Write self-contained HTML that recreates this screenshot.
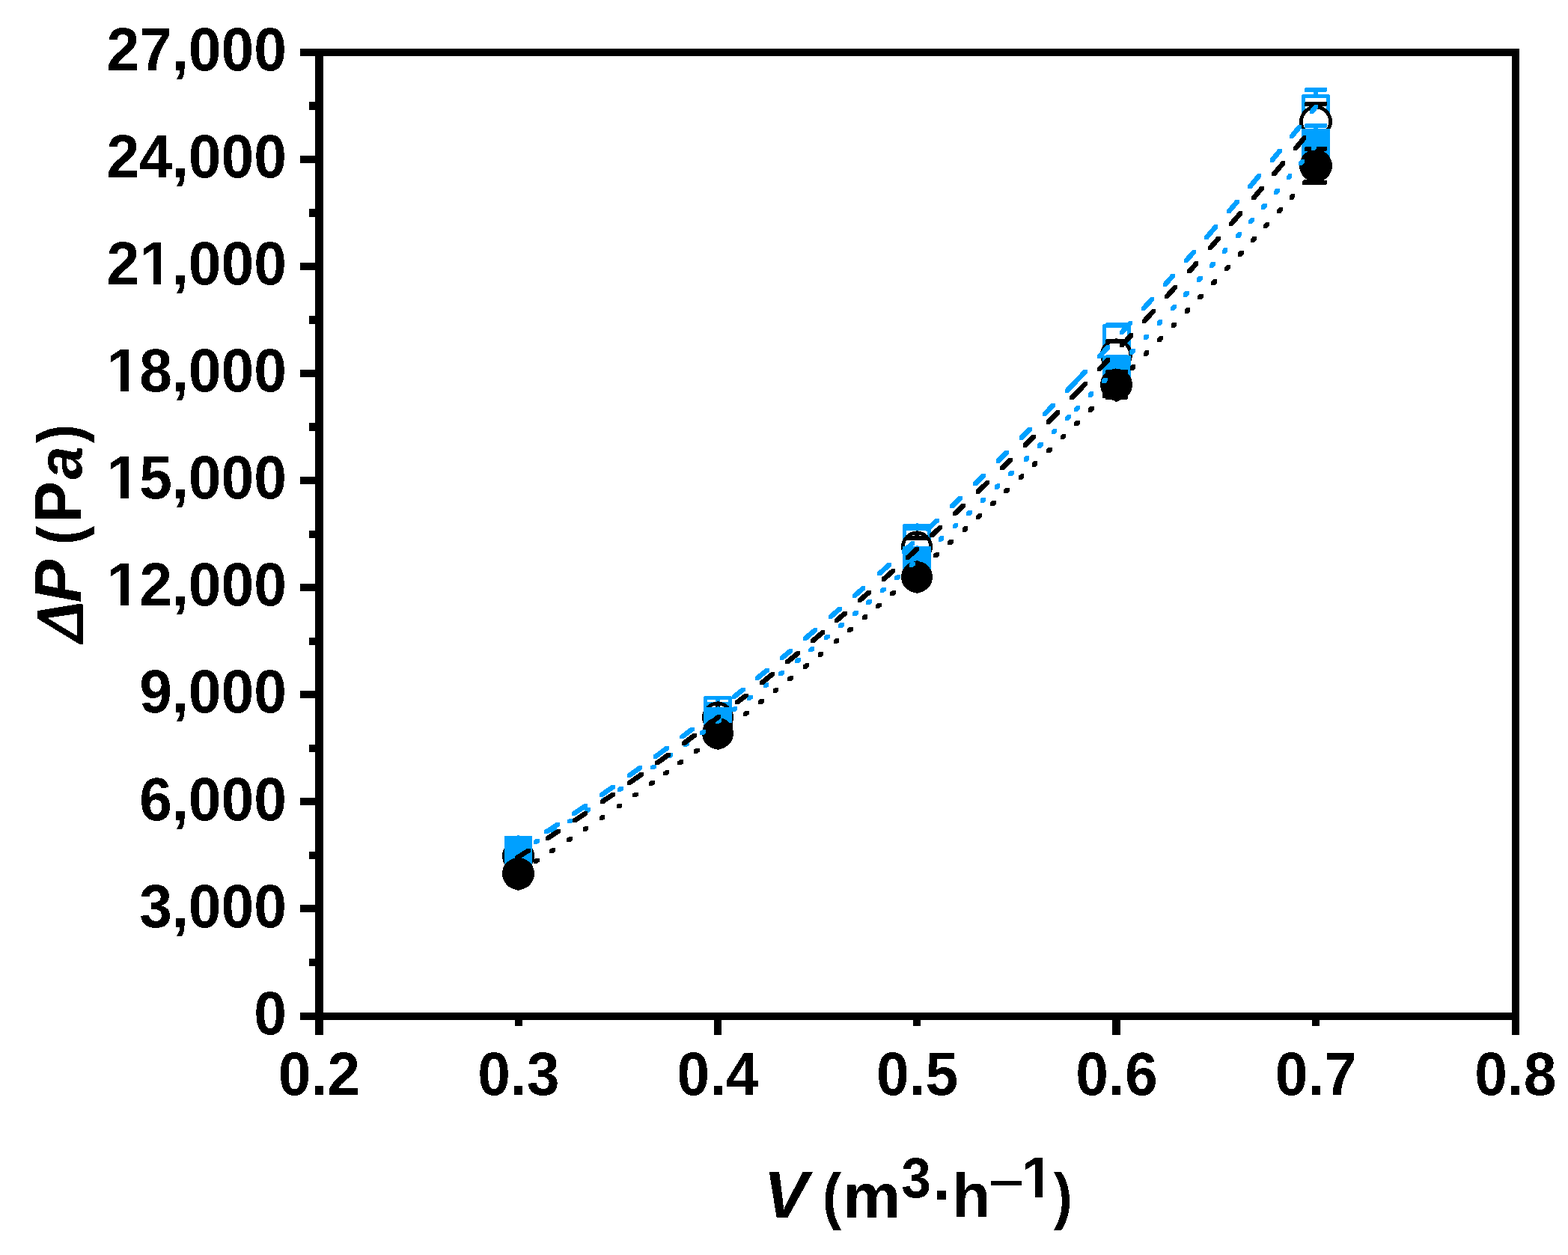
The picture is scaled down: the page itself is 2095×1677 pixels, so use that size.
<!DOCTYPE html>
<html lang="en">
<head>
<meta charset="utf-8">
<title>Pressure drop versus volumetric flow rate</title>
<style>
html,body{margin:0;padding:0;background:#fff;width:2095px;height:1677px;overflow:hidden}
svg{display:block}
text{font-family:"Liberation Sans",Arial,Helvetica,sans-serif;font-weight:bold;fill:#000;font-kerning:none}
</style>
</head>
<body>
<svg width="2095" height="1677" viewBox="0 0 2095 1677">
<defs>
<filter id="binc" x="-0.1" y="-0.1" width="1.2" height="1.2" color-interpolation-filters="sRGB"><feComponentTransfer><feFuncA type="discrete" tableValues="0 1"/></feComponentTransfer></filter>
<filter id="bin" filterUnits="userSpaceOnUse" x="0" y="0" width="2095" height="1677" color-interpolation-filters="sRGB"><feComponentTransfer><feFuncA type="discrete" tableValues="0 1"/></feComponentTransfer></filter>

</defs>
<rect x="0" y="0" width="2095" height="1677" fill="#fff"/>
<g id="markers" shape-rendering="crispEdges">
<rect x="676.5" y="1119.5" width="32" height="33" fill="#fff" stroke="#00A0FF" stroke-width="5" stroke-linejoin="round"/>
<rect x="678" y="1129" width="30" height="6" fill="#00A0FF" rx="2"/>
<rect x="690" y="1117" width="6" height="15" fill="#00A0FF"/>
<rect x="691" y="1116" width="3" height="1" fill="#00A0FF"/>
<rect x="678" y="1137" width="30" height="6" fill="#00A0FF" rx="2"/>
<rect x="690" y="1140" width="6" height="15" fill="#00A0FF"/>
<rect x="691" y="1155" width="3" height="1" fill="#00A0FF"/>
<rect x="942.5" y="932.5" width="33" height="33" fill="#fff" stroke="#00A0FF" stroke-width="5" stroke-linejoin="round"/>
<rect x="944" y="938" width="30" height="6" fill="#00A0FF" rx="2"/>
<rect x="956" y="930" width="6" height="11" fill="#00A0FF"/>
<rect x="944" y="954" width="30" height="6" fill="#00A0FF" rx="2"/>
<rect x="956" y="957" width="6" height="11" fill="#00A0FF"/>
<rect x="1208.5" y="702.5" width="33" height="33" fill="#fff" stroke="#00A0FF" stroke-width="5" stroke-linejoin="round"/>
<rect x="1210" y="703" width="30" height="6" fill="#00A0FF" rx="2"/>
<rect x="1222" y="700" width="6" height="6" fill="#00A0FF"/>
<rect x="1224" y="699" width="3" height="1" fill="#00A0FF"/>
<rect x="1210" y="729" width="30" height="6" fill="#00A0FF" rx="2"/>
<rect x="1222" y="732" width="6" height="6" fill="#00A0FF"/>
<rect x="1224" y="738" width="3" height="1" fill="#00A0FF"/>
<rect x="1475.5" y="435.5" width="33" height="33" fill="#fff" stroke="#00A0FF" stroke-width="5" stroke-linejoin="round"/>
<rect x="1477" y="431" width="30" height="6" fill="#00A0FF" rx="2"/>
<rect x="1489" y="433" width="6" height="1" fill="#00A0FF"/>
<rect x="1490" y="432" width="3" height="1" fill="#00A0FF"/>
<rect x="1477" y="467" width="30" height="6" fill="#00A0FF" rx="2"/>
<rect x="1489" y="470" width="6" height="1" fill="#00A0FF"/>
<rect x="1490" y="471" width="3" height="1" fill="#00A0FF"/>
<rect x="1741.5" y="128.5" width="33" height="33" fill="#fff" stroke="#00A0FF" stroke-width="5" stroke-linejoin="round"/>
<rect x="1743" y="117" width="30" height="6" fill="#00A0FF" rx="2"/>
<rect x="1755" y="120" width="6" height="6" fill="#00A0FF"/>
<rect x="1743" y="166" width="30" height="6" fill="#00A0FF" rx="2"/>
<rect x="1755" y="164" width="6" height="5" fill="#00A0FF"/>
<g filter="url(#binc)" shape-rendering="geometricPrecision"><circle cx="692.5" cy="1144" r="21.5" fill="#000000"/></g>
<g filter="url(#binc)" shape-rendering="geometricPrecision"><circle cx="692.5" cy="1144" r="16.7" fill="#fff"/></g>
<rect x="678" y="1137" width="30" height="6" fill="#000000" rx="2"/>
<rect x="690" y="1123" width="6" height="17" fill="#000000"/>
<rect x="691" y="1122" width="3" height="1" fill="#000000"/>
<rect x="678" y="1145" width="30" height="6" fill="#000000" rx="2"/>
<rect x="690" y="1148" width="6" height="18" fill="#000000"/>
<rect x="691" y="1166" width="3" height="1" fill="#000000"/>
<g filter="url(#binc)" shape-rendering="geometricPrecision"><circle cx="959" cy="958.5" r="21" fill="#000000"/></g>
<g filter="url(#binc)" shape-rendering="geometricPrecision"><circle cx="959" cy="958.5" r="16.2" fill="#fff"/></g>
<rect x="944" y="948" width="30" height="6" fill="#000000" rx="2"/>
<rect x="956" y="938" width="6" height="13" fill="#000000"/>
<rect x="958" y="937" width="3" height="1" fill="#000000"/>
<rect x="944" y="963" width="30" height="6" fill="#000000" rx="2"/>
<rect x="956" y="966" width="6" height="14" fill="#000000"/>
<rect x="958" y="980" width="3" height="1" fill="#000000"/>
<g filter="url(#binc)" shape-rendering="geometricPrecision"><circle cx="1225" cy="730.5" r="21" fill="#000000"/></g>
<g filter="url(#binc)" shape-rendering="geometricPrecision"><circle cx="1225" cy="730.5" r="16.2" fill="#fff"/></g>
<rect x="1210" y="716" width="30" height="6" fill="#000000" rx="2"/>
<rect x="1222" y="710" width="6" height="8" fill="#000000"/>
<rect x="1224" y="709" width="3" height="1" fill="#000000"/>
<rect x="1210" y="740" width="30" height="6" fill="#000000" rx="2"/>
<rect x="1222" y="743" width="6" height="9" fill="#000000"/>
<rect x="1224" y="752" width="3" height="1" fill="#000000"/>
<g filter="url(#binc)" shape-rendering="geometricPrecision"><circle cx="1491.5" cy="474" r="21.5" fill="#000000"/></g>
<g filter="url(#binc)" shape-rendering="geometricPrecision"><circle cx="1491.5" cy="474" r="16.7" fill="#fff"/></g>
<rect x="1477" y="453" width="30" height="6" fill="#000000" rx="2"/>
<rect x="1489" y="453" width="6" height="3" fill="#000000"/>
<rect x="1490" y="452" width="3" height="1" fill="#000000"/>
<rect x="1477" y="489" width="30" height="6" fill="#000000" rx="2"/>
<rect x="1489" y="492" width="6" height="4" fill="#000000"/>
<rect x="1490" y="496" width="3" height="1" fill="#000000"/>
<g filter="url(#binc)" shape-rendering="geometricPrecision"><circle cx="1758" cy="162.5" r="21.9" fill="#000000"/></g>
<g filter="url(#binc)" shape-rendering="geometricPrecision"><circle cx="1758" cy="162.5" r="17.1" fill="#fff"/></g>
<rect x="1743" y="136" width="30" height="6" fill="#000000" rx="2"/>
<rect x="1755" y="139" width="6" height="2" fill="#000000"/>
<rect x="1743" y="183" width="30" height="6" fill="#000000" rx="2"/>
<rect x="1755" y="184" width="6" height="2" fill="#000000"/>
<rect x="674" y="1117" width="37" height="38" fill="#00A0FF"/>
<rect x="678" y="1129" width="30" height="6" fill="#00A0FF" rx="2"/>
<rect x="690" y="1117" width="6" height="15" fill="#00A0FF"/>
<rect x="691" y="1116" width="3" height="1" fill="#00A0FF"/>
<rect x="678" y="1137" width="30" height="6" fill="#00A0FF" rx="2"/>
<rect x="690" y="1140" width="6" height="15" fill="#00A0FF"/>
<rect x="691" y="1155" width="3" height="1" fill="#00A0FF"/>
<rect x="940" y="945" width="38" height="38" fill="#00A0FF"/>
<rect x="944" y="953" width="30" height="6" fill="#00A0FF" rx="2"/>
<rect x="956" y="945" width="6" height="11" fill="#00A0FF"/>
<rect x="958" y="944" width="3" height="1" fill="#00A0FF"/>
<rect x="944" y="969" width="30" height="6" fill="#00A0FF" rx="2"/>
<rect x="956" y="972" width="6" height="11" fill="#00A0FF"/>
<rect x="958" y="983" width="3" height="1" fill="#00A0FF"/>
<rect x="1206" y="730" width="38" height="38" fill="#00A0FF"/>
<rect x="1210" y="734" width="30" height="6" fill="#00A0FF" rx="2"/>
<rect x="1222" y="730" width="6" height="7" fill="#00A0FF"/>
<rect x="1224" y="729" width="3" height="1" fill="#00A0FF"/>
<rect x="1210" y="758" width="30" height="6" fill="#00A0FF" rx="2"/>
<rect x="1222" y="761" width="6" height="7" fill="#00A0FF"/>
<rect x="1224" y="768" width="3" height="1" fill="#00A0FF"/>
<rect x="1473" y="475" width="38" height="38" fill="#00A0FF"/>
<rect x="1477" y="474" width="30" height="6" fill="#00A0FF" rx="2"/>
<rect x="1489" y="475" width="6" height="2" fill="#00A0FF"/>
<rect x="1490" y="474" width="3" height="1" fill="#00A0FF"/>
<rect x="1477" y="508" width="30" height="6" fill="#00A0FF" rx="2"/>
<rect x="1489" y="511" width="6" height="2" fill="#00A0FF"/>
<rect x="1490" y="513" width="3" height="1" fill="#00A0FF"/>
<rect x="1739" y="172" width="38" height="38" fill="#00A0FF"/>
<rect x="1743" y="165" width="30" height="6" fill="#00A0FF" rx="2"/>
<rect x="1755" y="168" width="6" height="4" fill="#00A0FF"/>
<rect x="1743" y="211" width="30" height="6" fill="#00A0FF" rx="2"/>
<rect x="1755" y="210" width="6" height="4" fill="#00A0FF"/>
<g filter="url(#binc)" shape-rendering="geometricPrecision"><circle cx="692.5" cy="1167.5" r="21.5" fill="#000000"/></g>
<rect x="678" y="1161" width="30" height="6" fill="#000000" rx="2"/>
<rect x="690" y="1146" width="6" height="18" fill="#000000"/>
<rect x="691" y="1145" width="3" height="1" fill="#000000"/>
<rect x="678" y="1168" width="30" height="6" fill="#000000" rx="2"/>
<rect x="690" y="1171" width="6" height="18" fill="#000000"/>
<rect x="691" y="1189" width="3" height="1" fill="#000000"/>
<g filter="url(#binc)" shape-rendering="geometricPrecision"><circle cx="959" cy="980" r="21" fill="#000000"/></g>
<rect x="944" y="969" width="30" height="6" fill="#000000" rx="2"/>
<rect x="956" y="959" width="6" height="13" fill="#000000"/>
<rect x="958" y="958" width="3" height="1" fill="#000000"/>
<rect x="944" y="985" width="30" height="6" fill="#000000" rx="2"/>
<rect x="956" y="988" width="6" height="13" fill="#000000"/>
<rect x="958" y="1001" width="3" height="1" fill="#000000"/>
<g filter="url(#binc)" shape-rendering="geometricPrecision"><circle cx="1225" cy="771" r="21" fill="#000000"/></g>
<rect x="1210" y="756" width="30" height="6" fill="#000000" rx="2"/>
<rect x="1222" y="750" width="6" height="9" fill="#000000"/>
<rect x="1224" y="749" width="3" height="1" fill="#000000"/>
<rect x="1210" y="780" width="30" height="6" fill="#000000" rx="2"/>
<rect x="1222" y="783" width="6" height="9" fill="#000000"/>
<rect x="1224" y="792" width="3" height="1" fill="#000000"/>
<g filter="url(#binc)" shape-rendering="geometricPrecision"><circle cx="1491.5" cy="514" r="21.5" fill="#000000"/></g>
<rect x="1477" y="494" width="30" height="6" fill="#000000" rx="2"/>
<rect x="1489" y="493" width="6" height="4" fill="#000000"/>
<rect x="1490" y="492" width="3" height="1" fill="#000000"/>
<rect x="1477" y="528" width="30" height="6" fill="#000000" rx="2"/>
<rect x="1489" y="531" width="6" height="5" fill="#000000"/>
<rect x="1490" y="536" width="3" height="1" fill="#000000"/>
<g filter="url(#binc)" shape-rendering="geometricPrecision"><circle cx="1758" cy="221.5" r="21.9" fill="#000000"/></g>
<rect x="1743" y="196" width="30" height="6" fill="#000000" rx="2"/>
<rect x="1755" y="199" width="6" height="1" fill="#000000"/>
<rect x="1743" y="241" width="30" height="6" fill="#000000" rx="2"/>
<rect x="1755" y="243" width="6" height="1" fill="#000000"/>
</g>
<g id="curves" shape-rendering="crispEdges">
<polygon points="690.35,1132.85 690.35,1137.65 695.15,1137.65 710.1,1128.22 710.1,1123.42 705.3,1123.42" fill="#00A0FF"/>
<polygon points="727.29,1109.31 727.29,1114.11 732.09,1114.11 747.91,1103.79 747.91,1098.99 743.11,1098.99" fill="#00A0FF"/>
<polygon points="764.07,1085.11 764.07,1089.91 768.87,1089.91 785.2,1078.91 785.2,1074.11 780.4,1074.11" fill="#00A0FF"/>
<polygon points="801.01,1060.01 801.01,1064.81 805.81,1064.81 821.8,1053.7 821.8,1048.9 817,1048.9" fill="#00A0FF"/>
<polygon points="837.96,1034.13 837.96,1038.93 842.76,1038.93 857.89,1028.1 857.89,1023.3 853.09,1023.3" fill="#00A0FF"/>
<polygon points="873.18,1008.73 873.18,1013.53 877.98,1013.53 893.98,1001.76 893.98,996.96 889.18,996.96" fill="#00A0FF"/>
<polygon points="908.41,982.61 908.41,987.41 913.21,987.41 927.83,976.36 927.83,971.56 923.03,971.56" fill="#00A0FF"/>
<polygon points="943.43,955.94 943.43,960.74 948.23,960.74 962.2,949.91 962.2,945.11 957.4,945.11" fill="#00A0FF"/>
<polygon points="978.11,928.84 978.11,933.64 982.91,933.64 995.81,923.38 995.81,918.58 991.01,918.58" fill="#00A0FF"/>
<polygon points="1009.05,904.09 1009.05,908.89 1013.85,908.89 1027.95,897.42 1027.95,892.62 1023.15,892.62" fill="#00A0FF"/>
<polygon points="1042.04,877.08 1042.04,881.88 1046.84,881.88 1058.88,871.87 1058.88,867.07 1054.08,867.07" fill="#00A0FF"/>
<polygon points="1073.14,851.05 1073.14,855.85 1077.94,855.85 1091.87,844.02 1091.87,839.22 1087.07,839.22" fill="#00A0FF"/>
<polygon points="1106.99,822.09 1106.99,826.89 1111.79,826.89 1125.04,815.39 1125.04,810.59 1120.24,810.59" fill="#00A0FF"/>
<polygon points="1139.13,794 1139.13,798.8 1143.93,798.8 1155.97,788.12 1155.97,783.32 1151.17,783.32" fill="#00A0FF"/>
<polygon points="1171.95,764.69 1171.95,769.49 1176.75,769.49 1190.85,756.7 1190.85,751.9 1186.05,751.9" fill="#00A0FF"/>
<polygon points="1204.62,734.89 1204.62,739.69 1209.42,739.69 1222.4,727.69 1222.4,722.89 1217.6,722.89" fill="#00A0FF"/>
<polygon points="1237,704.77 1237,709.57 1241.8,709.57 1254.66,697.44 1254.66,692.64 1249.86,692.64" fill="#00A0FF"/>
<polygon points="1269.08,674.33 1269.08,679.13 1273.88,679.13 1285.92,667.56 1285.92,662.76 1281.12,662.76" fill="#00A0FF"/>
<polygon points="1300.01,644.43 1300.01,649.23 1304.81,649.23 1316.85,637.44 1316.85,632.64 1312.05,632.64" fill="#00A0FF"/>
<polygon points="1330.94,613.97 1330.94,618.77 1335.74,618.77 1347.78,606.77 1347.78,601.97 1342.98,601.97" fill="#00A0FF"/>
<polygon points="1361.87,582.97 1361.87,587.77 1366.67,587.77 1378.71,575.55 1378.71,570.75 1373.91,570.75" fill="#00A0FF"/>
<polygon points="1392.8,551.42 1392.8,556.22 1397.6,556.22 1409.99,543.43 1409.99,538.63 1405.19,538.63" fill="#00A0FF"/>
<polygon points="1423.05,520.04 1423.05,524.84 1427.85,524.84 1452.95,498.4 1452.95,493.6 1448.15,493.6" fill="#00A0FF"/>
<polygon points="1466.4,474.14 1466.4,478.94 1471.2,478.94 1483,466.26 1483,461.46 1478.2,461.46" fill="#00A0FF"/>
<polygon points="1496.2,441.97 1496.2,446.77 1501,446.77 1512.8,433.89 1512.8,429.09 1508,429.09" fill="#00A0FF"/>
<polygon points="1524.99,410.4 1524.99,415.2 1529.79,415.2 1541.83,401.86 1541.83,397.06 1537.03,397.06" fill="#00A0FF"/>
<polygon points="1553.86,378.28 1553.86,383.08 1558.66,383.08 1569.67,370.7 1569.67,365.9 1564.87,365.9" fill="#00A0FF"/>
<polygon points="1582.04,346.45 1582.04,351.25 1586.84,351.25 1598.02,338.5 1598.02,333.7 1593.22,333.7" fill="#00A0FF"/>
<polygon points="1609.19,315.36 1609.19,320.16 1613.99,320.16 1627.23,304.84 1627.23,300.04 1622.43,300.04" fill="#00A0FF"/>
<polygon points="1639.26,280.43 1639.26,285.23 1644.06,285.23 1655.93,271.31 1655.93,266.51 1651.13,266.51" fill="#00A0FF"/>
<polygon points="1667.27,247.44 1667.27,252.24 1672.07,252.24 1684.8,237.09 1684.8,232.29 1680,232.29" fill="#00A0FF"/>
<polygon points="1697.17,211.71 1697.17,216.51 1701.97,216.51 1712.81,203.44 1712.81,198.64 1708.01,198.64" fill="#00A0FF"/>
<polygon points="1723.46,179.88 1723.46,184.68 1728.26,184.68 1738.93,171.66 1738.93,166.86 1734.13,166.86" fill="#00A0FF"/>
<polygon points="1750.1,147.22 1750.1,152.02 1754.9,152.02 1760.8,144.73 1760.8,139.93 1756,139.93" fill="#00A0FF"/>
<polygon points="690.65,1135.92 690.65,1140.72 695.45,1140.72 698.79,1138.79 698.79,1133.99 693.99,1133.99" fill="#00A0FF"/>
<polygon points="713.01,1122.85 713.01,1127.65 717.81,1127.65 720.61,1125.99 720.61,1121.19 715.81,1121.19" fill="#00A0FF"/>
<polygon points="735.67,1109.31 735.67,1114.11 740.47,1114.11 743.77,1112.11 743.77,1107.31 738.97,1107.31" fill="#00A0FF"/>
<polygon points="758.2,1095.54 758.2,1100.34 763,1100.34 765.8,1098.61 765.8,1093.81 761,1093.81" fill="#00A0FF"/>
<polygon points="780.67,1081.53 780.67,1086.33 785.47,1086.33 788.74,1084.27 788.74,1079.47 783.94,1079.47" fill="#00A0FF"/>
<polygon points="803.01,1067.3 803.01,1072.1 807.81,1072.1 811.06,1070.01 811.06,1065.21 806.26,1065.21" fill="#00A0FF"/>
<polygon points="825.22,1052.87 825.22,1057.67 830.02,1057.67 832.82,1055.84 832.82,1051.04 828.02,1051.04" fill="#00A0FF"/>
<polygon points="847.19,1038.32 847.19,1043.12 851.99,1043.12 855.2,1040.97 855.2,1036.17 850.4,1036.17" fill="#00A0FF"/>
<polygon points="869.04,1023.57 869.04,1028.37 873.84,1028.37 876.64,1026.46 876.64,1021.66 871.84,1021.66" fill="#00A0FF"/>
<polygon points="891.22,1008.31 891.22,1013.11 896.02,1013.11 899.19,1010.91 899.19,1006.11 894.39,1006.11" fill="#00A0FF"/>
<polygon points="913.28,992.86 913.28,997.66 918.08,997.66 921.23,995.43 921.23,990.63 916.43,990.63" fill="#00A0FF"/>
<polygon points="935.2,977.22 935.2,982.02 940,982.02 942.8,980 942.8,975.2 938,975.2" fill="#00A0FF"/>
<polygon points="956.26,961.93 956.26,966.73 961.06,966.73 964.18,964.45 964.18,959.65 959.38,959.65" fill="#00A0FF"/>
<polygon points="977.21,946.47 977.21,951.27 982.01,951.27 985.1,948.97 985.1,944.17 980.3,944.17" fill="#00A0FF"/>
<polygon points="998.03,930.86 998.03,935.66 1002.83,935.66 1005.63,933.54 1005.63,928.74 1000.83,928.74" fill="#00A0FF"/>
<polygon points="1019.85,914.22 1019.85,919.02 1024.65,919.02 1027.45,916.86 1027.45,912.06 1022.65,912.06" fill="#00A0FF"/>
<polygon points="1040.13,898.51 1040.13,903.31 1044.93,903.31 1047.73,901.12 1047.73,896.32 1042.93,896.32" fill="#00A0FF"/>
<polygon points="1061.95,881.34 1061.95,886.14 1066.75,886.14 1069.55,883.92 1069.55,879.12 1064.75,879.12" fill="#00A0FF"/>
<polygon points="1080.34,866.66 1080.34,871.46 1085.14,871.46 1087.94,869.21 1087.94,864.41 1083.14,864.41" fill="#00A0FF"/>
<polygon points="1101.13,849.83 1101.13,854.63 1105.93,854.63 1108.73,852.34 1108.73,847.54 1103.93,847.54" fill="#00A0FF"/>
<polygon points="1120.03,834.3 1120.03,839.1 1124.83,839.1 1127.63,836.78 1127.63,831.98 1122.83,831.98" fill="#00A0FF"/>
<polygon points="1139.28,818.28 1139.28,823.08 1144.08,823.08 1146.88,820.74 1146.88,815.94 1142.08,815.94" fill="#00A0FF"/>
<polygon points="1157.32,803.07 1157.32,807.87 1162.12,807.87 1164.92,805.5 1164.92,800.7 1160.12,800.7" fill="#00A0FF"/>
<polygon points="1176.22,786.94 1176.22,791.74 1181.02,791.74 1183.82,789.33 1183.82,784.53 1179.02,784.53" fill="#00A0FF"/>
<polygon points="1195.47,770.29 1195.47,775.09 1200.27,775.09 1203.07,772.65 1203.07,767.85 1198.27,767.85" fill="#00A0FF"/>
<polygon points="1214.93,753.24 1214.93,758.04 1219.73,758.04 1222.62,755.49 1222.62,750.69 1217.82,750.69" fill="#00A0FF"/>
<polygon points="1234.28,736.07 1234.28,740.87 1239.08,740.87 1241.96,738.3 1241.96,733.5 1237.16,733.5" fill="#00A0FF"/>
<polygon points="1253.53,718.78 1253.53,723.58 1258.33,723.58 1261.19,721 1261.19,716.2 1256.39,716.2" fill="#00A0FF"/>
<polygon points="1272.67,701.38 1272.67,706.18 1277.47,706.18 1280.27,703.61 1280.27,698.81 1275.47,698.81" fill="#00A0FF"/>
<polygon points="1291.05,684.45 1291.05,689.25 1295.85,689.25 1298.65,686.66 1298.65,681.86 1293.85,681.86" fill="#00A0FF"/>
<polygon points="1309.61,667.18 1309.61,671.98 1314.41,671.98 1317.21,669.35 1317.21,664.55 1312.41,664.55" fill="#00A0FF"/>
<polygon points="1328.86,649.05 1328.86,653.85 1333.66,653.85 1336.46,651.19 1336.46,646.39 1331.66,646.39" fill="#00A0FF"/>
<polygon points="1347.07,631.69 1347.07,636.49 1351.87,636.49 1354.67,633.81 1354.67,629.01 1349.87,629.01" fill="#00A0FF"/>
<polygon points="1367.69,611.81 1367.69,616.61 1372.49,616.61 1375.29,613.89 1375.29,609.09 1370.49,609.09" fill="#00A0FF"/>
<polygon points="1386.08,593.88 1386.08,598.68 1390.88,598.68 1393.68,595.93 1393.68,591.13 1388.88,591.13" fill="#00A0FF"/>
<polygon points="1404.64,575.58 1404.64,580.38 1409.44,580.38 1412.24,577.6 1412.24,572.8 1407.44,572.8" fill="#00A0FF"/>
<polygon points="1423.03,557.25 1423.03,562.05 1427.83,562.05 1430.63,559.24 1430.63,554.44 1425.83,554.44" fill="#00A0FF"/>
<polygon points="1435.4,544.81 1435.4,549.61 1440.2,549.61 1443,546.78 1443,541.98 1438.2,541.98" fill="#00A0FF"/>
<polygon points="1453.61,526.33 1453.61,531.13 1458.41,531.13 1461.21,528.27 1461.21,523.47 1456.41,523.47" fill="#00A0FF"/>
<polygon points="1472,507.48 1472,512.28 1476.8,512.28 1479.6,509.4 1479.6,504.6 1474.8,504.6" fill="#00A0FF"/>
<polygon points="1490.63,488.19 1490.63,492.99 1495.43,492.99 1498.1,490.21 1498.1,485.41 1493.3,485.41" fill="#00A0FF"/>
<polygon points="1509.15,468.8 1509.15,473.6 1513.95,473.6 1516.61,470.8 1516.61,466 1511.81,466" fill="#00A0FF"/>
<polygon points="1527.58,449.32 1527.58,454.12 1532.38,454.12 1535.03,451.31 1535.03,446.51 1530.23,446.51" fill="#00A0FF"/>
<polygon points="1545.91,429.74 1545.91,434.54 1550.71,434.54 1553.34,431.72 1553.34,426.92 1548.54,426.92" fill="#00A0FF"/>
<polygon points="1564.15,410.08 1564.15,414.88 1568.95,414.88 1571.75,411.84 1571.75,407.04 1566.95,407.04" fill="#00A0FF"/>
<polygon points="1580.99,391.75 1580.99,396.55 1585.79,396.55 1588.59,393.48 1588.59,388.68 1583.79,388.68" fill="#00A0FF"/>
<polygon points="1599.03,371.92 1599.03,376.72 1603.83,376.72 1606.63,373.63 1606.63,368.83 1601.83,368.83" fill="#00A0FF"/>
<polygon points="1616.04,353.06 1616.04,357.86 1620.84,357.86 1623.64,354.74 1623.64,349.94 1618.84,349.94" fill="#00A0FF"/>
<polygon points="1632.88,334.22 1632.88,339.02 1637.68,339.02 1640.48,335.87 1640.48,331.07 1635.68,331.07" fill="#00A0FF"/>
<polygon points="1651.44,313.27 1651.44,318.07 1656.24,318.07 1659.04,314.89 1659.04,310.09 1654.24,310.09" fill="#00A0FF"/>
<polygon points="1668.11,294.29 1668.11,299.09 1672.91,299.09 1675.71,295.88 1675.71,291.08 1670.91,291.08" fill="#00A0FF"/>
<polygon points="1684.95,274.94 1684.95,279.74 1689.75,279.74 1692.55,276.51 1692.55,271.71 1687.75,271.71" fill="#00A0FF"/>
<polygon points="1702.13,255.03 1702.13,259.83 1706.93,259.83 1709.73,256.57 1709.73,251.77 1704.93,251.77" fill="#00A0FF"/>
<polygon points="1718.8,235.56 1718.8,240.36 1723.6,240.36 1726.4,237.07 1726.4,232.27 1721.6,232.27" fill="#00A0FF"/>
<polygon points="1735.47,215.92 1735.47,220.72 1740.27,220.72 1743.07,217.41 1743.07,212.61 1738.27,212.61" fill="#00A0FF"/>
<polygon points="1752.15,196.11 1752.15,200.91 1756.95,200.91 1759.43,197.95 1759.43,193.15 1754.63,193.15" fill="#00A0FF"/>
<polygon points="688.1,1143.99 688.1,1148.79 692.9,1148.79 708.5,1138.98 708.5,1134.18 703.7,1134.18" fill="#000000"/>
<polygon points="728.5,1118.31 728.5,1123.11 733.3,1123.11 748.6,1113.14 748.6,1108.34 743.8,1108.34" fill="#000000"/>
<polygon points="765.44,1094.03 765.44,1098.83 770.24,1098.83 785.2,1088.79 785.2,1083.99 780.4,1083.99" fill="#000000"/>
<polygon points="801.53,1069.59 801.53,1074.39 806.33,1074.39 821.8,1063.69 821.8,1058.89 817,1058.89" fill="#000000"/>
<polygon points="838.47,1043.83 838.47,1048.63 843.27,1048.63 859.61,1037 859.61,1032.2 854.81,1032.2" fill="#000000"/>
<polygon points="875.42,1017.31 875.42,1022.11 880.22,1022.11 896.04,1010.53 896.04,1005.73 891.24,1005.73" fill="#000000"/>
<polygon points="910.64,991.33 910.64,996.13 915.44,996.13 930.75,984.63 930.75,979.83 925.95,979.83" fill="#000000"/>
<polygon points="940.1,969.08 940.1,973.88 944.9,973.88 963,959.97 963,955.17 958.2,955.17" fill="#000000"/>
<polygon points="982.41,936.28 982.41,941.08 987.21,941.08 999.59,931.3 999.59,926.5 994.79,926.5" fill="#000000"/>
<polygon points="1015.06,910.3 1015.06,915.1 1019.86,915.1 1034.82,903 1034.82,898.2 1030.02,898.2" fill="#000000"/>
<polygon points="1049.08,882.6 1049.08,887.4 1053.88,887.4 1068.84,875.01 1068.84,870.21 1064.04,870.21" fill="#000000"/>
<polygon points="1082.94,854.4 1082.94,859.2 1087.74,859.2 1101.84,847.27 1101.84,842.47 1097.04,842.47" fill="#000000"/>
<polygon points="1115.07,827.06 1115.07,831.86 1119.87,831.86 1131.91,821.46 1131.91,816.66 1127.11,816.66" fill="#000000"/>
<polygon points="1146,800.2 1146,805 1150.8,805 1163.7,793.64 1163.7,788.84 1158.9,788.84" fill="#000000"/>
<polygon points="1177.96,771.89 1177.96,776.69 1182.76,776.69 1196,764.79 1196,759.99 1191.2,759.99" fill="#000000"/>
<polygon points="1210.1,742.86 1210.1,747.66 1214.9,747.66 1228.14,735.53 1228.14,730.73 1223.34,730.73" fill="#000000"/>
<polygon points="1241.9,713.57 1241.9,718.37 1246.7,718.37 1258.7,707.17 1258.7,702.37 1253.9,702.37" fill="#000000"/>
<polygon points="1273.03,684.35 1273.03,689.15 1277.83,689.15 1289.7,677.88 1289.7,673.08 1284.9,673.08" fill="#000000"/>
<polygon points="1303.96,654.8 1303.96,659.6 1308.76,659.6 1322,646.79 1322,641.99 1317.2,641.99" fill="#000000"/>
<polygon points="1336.1,623.54 1336.1,628.34 1340.9,628.34 1352.94,616.48 1352.94,611.68 1348.14,611.68" fill="#000000"/>
<polygon points="1367.03,592.92 1367.03,597.72 1371.83,597.72 1383.87,585.65 1383.87,580.85 1379.07,580.85" fill="#000000"/>
<polygon points="1397.96,561.76 1397.96,566.56 1402.76,566.56 1416,553.06 1416,548.26 1411.2,548.26" fill="#000000"/>
<polygon points="1429.4,529.55 1429.4,534.35 1434.2,534.35 1452.95,514.89 1452.95,510.09 1448.15,510.09" fill="#000000"/>
<polygon points="1465.8,491.59 1465.8,496.39 1470.6,496.39 1483,483.29 1483,478.49 1478.2,478.49" fill="#000000"/>
<polygon points="1496.2,459.32 1496.2,464.12 1501,464.12 1513.9,450.27 1513.9,445.47 1509.1,445.47" fill="#000000"/>
<polygon points="1526.44,426.71 1526.44,431.51 1531.24,431.51 1543.64,418 1543.64,413.2 1538.84,413.2" fill="#000000"/>
<polygon points="1556.43,393.88 1556.43,398.68 1561.23,398.68 1572.76,385.93 1572.76,381.13 1567.96,381.13" fill="#000000"/>
<polygon points="1586.33,360.65 1586.33,365.45 1591.13,365.45 1601.46,353.87 1601.46,349.07 1596.66,349.07" fill="#000000"/>
<polygon points="1614.34,329.08 1614.34,333.88 1619.14,333.88 1630.67,320.76 1630.67,315.96 1625.87,315.96" fill="#000000"/>
<polygon points="1642.35,297.08 1642.35,301.88 1647.15,301.88 1660.4,286.59 1660.4,281.79 1655.6,281.79" fill="#000000"/>
<polygon points="1672.42,262.23 1672.42,267.03 1677.22,267.03 1688.75,253.55 1688.75,248.75 1683.95,248.75" fill="#000000"/>
<polygon points="1699.4,230.55 1699.4,235.35 1704.2,235.35 1716.93,220.27 1716.93,215.47 1712.13,215.47" fill="#000000"/>
<polygon points="1728.27,196.21 1728.27,201.01 1733.07,201.01 1745.46,186.13 1745.46,181.33 1740.66,181.33" fill="#000000"/>
<polygon points="690.77,1162.74 690.77,1167.54 695.57,1167.54 698.7,1165.58 698.7,1160.78 693.9,1160.78" fill="#000000"/>
<polygon points="712.68,1148.93 712.68,1153.73 717.48,1153.73 720.6,1151.75 720.6,1146.95 715.8,1146.95" fill="#000000"/>
<polygon points="734.49,1134.96 734.49,1139.76 739.29,1139.76 742.09,1137.95 742.09,1133.15 737.29,1133.15" fill="#000000"/>
<polygon points="757,1120.3 757,1125.1 761.8,1125.1 764.6,1123.26 764.6,1118.46 759.8,1118.46" fill="#000000"/>
<polygon points="778.83,1105.86 778.83,1110.66 783.63,1110.66 786.43,1108.79 786.43,1103.99 781.63,1103.99" fill="#000000"/>
<polygon points="800.82,1091.07 800.82,1095.87 805.62,1095.87 808.42,1093.97 808.42,1089.17 803.62,1089.17" fill="#000000"/>
<polygon points="823.5,1075.57 823.5,1080.37 828.3,1080.37 831.1,1078.44 831.1,1073.64 826.3,1073.64" fill="#000000"/>
<polygon points="844.98,1060.67 844.98,1065.47 849.78,1065.47 852.58,1063.51 852.58,1058.71 847.78,1058.71" fill="#000000"/>
<polygon points="867.32,1044.94 867.32,1049.74 872.12,1049.74 874.92,1047.75 874.92,1042.95 870.12,1042.95" fill="#000000"/>
<polygon points="886.22,1031.44 886.22,1036.24 891.02,1036.24 893.82,1034.23 893.82,1029.43 889.02,1029.43" fill="#000000"/>
<polygon points="905.47,1017.52 905.47,1022.32 910.27,1022.32 913.07,1020.28 913.07,1015.48 908.27,1015.48" fill="#000000"/>
<polygon points="926.95,1001.77 926.95,1006.57 931.75,1006.57 934.55,1004.5 934.55,999.7 929.75,999.7" fill="#000000"/>
<polygon points="949.15,985.26 949.15,990.06 953.95,990.06 956.91,987.84 956.91,983.04 952.11,983.04" fill="#000000"/>
<polygon points="971.24,968.59 971.24,973.39 976.04,973.39 978.98,971.16 978.98,966.36 974.18,966.36" fill="#000000"/>
<polygon points="993.22,951.78 993.22,956.58 998.02,956.58 1000.82,954.42 1000.82,949.62 996.02,949.62" fill="#000000"/>
<polygon points="1013.49,936.07 1013.49,940.87 1018.29,940.87 1021.09,938.68 1021.09,933.88 1016.29,933.88" fill="#000000"/>
<polygon points="1032.74,920.96 1032.74,925.76 1037.54,925.76 1040.34,923.55 1040.34,918.75 1035.54,918.75" fill="#000000"/>
<polygon points="1052.16,905.55 1052.16,910.35 1056.96,910.35 1059.76,908.11 1059.76,903.31 1054.96,903.31" fill="#000000"/>
<polygon points="1073.12,888.7 1073.12,893.5 1077.92,893.5 1080.72,891.23 1080.72,886.43 1075.92,886.43" fill="#000000"/>
<polygon points="1092.54,872.91 1092.54,877.71 1097.34,877.71 1100.14,875.41 1100.14,870.61 1095.34,870.61" fill="#000000"/>
<polygon points="1113.5,855.65 1113.5,860.45 1118.3,860.45 1121.1,858.13 1121.1,853.33 1116.3,853.33" fill="#000000"/>
<polygon points="1132.41,839.91 1132.41,844.71 1137.21,844.71 1140.01,842.37 1140.01,837.57 1135.21,837.57" fill="#000000"/>
<polygon points="1151.82,823.56 1151.82,828.36 1156.62,828.36 1159.42,825.99 1159.42,821.19 1154.62,821.19" fill="#000000"/>
<polygon points="1170.21,807.92 1170.21,812.72 1175.01,812.72 1177.81,810.32 1177.81,805.52 1173.01,805.52" fill="#000000"/>
<polygon points="1189.11,791.66 1189.11,796.46 1193.91,796.46 1196.71,794.04 1196.71,789.24 1191.91,789.24" fill="#000000"/>
<polygon points="1208.58,774.74 1208.58,779.54 1213.38,779.54 1216.16,777.11 1216.16,772.31 1211.36,772.31" fill="#000000"/>
<polygon points="1227.96,757.72 1227.96,762.52 1232.76,762.52 1235.52,760.07 1235.52,755.27 1230.72,755.27" fill="#000000"/>
<polygon points="1247.24,740.59 1247.24,745.39 1252.04,745.39 1254.8,742.93 1254.8,738.13 1250,738.13" fill="#000000"/>
<polygon points="1266.44,723.37 1266.44,728.17 1271.24,728.17 1273.99,725.69 1273.99,720.89 1269.19,720.89" fill="#000000"/>
<polygon points="1285.56,706.05 1285.56,710.85 1290.36,710.85 1293.16,708.29 1293.16,703.49 1288.36,703.49" fill="#000000"/>
<polygon points="1304.11,689.06 1304.11,693.86 1308.91,693.86 1311.71,691.28 1311.71,686.48 1306.91,686.48" fill="#000000"/>
<polygon points="1323.02,671.58 1323.02,676.38 1327.82,676.38 1330.62,673.78 1330.62,668.98 1325.82,668.98" fill="#000000"/>
<polygon points="1341.4,654.42 1341.4,659.22 1346.2,659.22 1349,656.6 1349,651.8 1344.2,651.8" fill="#000000"/>
<polygon points="1360.82,636.12 1360.82,640.92 1365.62,640.92 1368.42,638.27 1368.42,633.47 1363.62,633.47" fill="#000000"/>
<polygon points="1378.86,618.96 1378.86,623.76 1383.66,623.76 1386.46,621.08 1386.46,616.28 1381.66,616.28" fill="#000000"/>
<polygon points="1398.11,600.47 1398.11,605.27 1402.91,605.27 1405.71,602.57 1405.71,597.77 1400.91,597.77" fill="#000000"/>
<polygon points="1416.67,582.48 1416.67,587.28 1421.47,587.28 1424.27,584.55 1424.27,579.75 1419.47,579.75" fill="#000000"/>
<polygon points="1435.05,564.49 1435.05,569.29 1439.85,569.29 1442.65,566.53 1442.65,561.73 1437.85,561.73" fill="#000000"/>
<polygon points="1453.96,545.82 1453.96,550.62 1458.76,550.62 1461.56,547.84 1461.56,543.04 1456.76,543.04" fill="#000000"/>
<polygon points="1472.6,527.25 1472.6,532.05 1477.4,532.05 1480.01,529.44 1480.01,524.64 1475.21,524.64" fill="#000000"/>
<polygon points="1491.15,508.59 1491.15,513.39 1495.95,513.39 1498.55,510.77 1498.55,505.97 1493.75,505.97" fill="#000000"/>
<polygon points="1509.62,489.86 1509.62,494.66 1514.42,494.66 1517.01,492.02 1517.01,487.22 1512.21,487.22" fill="#000000"/>
<polygon points="1528.02,471.04 1528.02,475.84 1532.82,475.84 1535.39,473.19 1535.39,468.39 1530.59,468.39" fill="#000000"/>
<polygon points="1546.33,452.14 1546.33,456.94 1551.13,456.94 1553.69,454.28 1553.69,449.48 1548.89,449.48" fill="#000000"/>
<polygon points="1564.56,433.17 1564.56,437.97 1569.36,437.97 1571.91,435.3 1571.91,430.5 1567.11,430.5" fill="#000000"/>
<polygon points="1582.71,414.12 1582.71,418.92 1587.51,418.92 1590.31,415.97 1590.31,411.17 1585.51,411.17" fill="#000000"/>
<polygon points="1600.23,395.57 1600.23,400.37 1605.03,400.37 1607.83,397.4 1607.83,392.6 1603.03,392.6" fill="#000000"/>
<polygon points="1618.28,376.33 1618.28,381.13 1623.08,381.13 1625.88,378.13 1625.88,373.33 1621.08,373.33" fill="#000000"/>
<polygon points="1635.98,357.3 1635.98,362.1 1640.78,362.1 1643.58,359.07 1643.58,354.27 1638.78,354.27" fill="#000000"/>
<polygon points="1654.02,337.74 1654.02,342.54 1658.82,342.54 1661.62,339.49 1661.62,334.69 1656.82,334.69" fill="#000000"/>
<polygon points="1671.03,319.16 1671.03,323.96 1675.83,323.96 1678.63,320.89 1678.63,316.09 1673.83,316.09" fill="#000000"/>
<polygon points="1688.39,300.06 1688.39,304.86 1693.19,304.86 1695.99,301.76 1695.99,296.96 1691.19,296.96" fill="#000000"/>
<polygon points="1706.26,280.24 1706.26,285.04 1711.06,285.04 1713.86,281.92 1713.86,277.12 1709.06,277.12" fill="#000000"/>
<polygon points="1722.75,261.8 1722.75,266.6 1727.55,266.6 1730.35,263.46 1730.35,258.66 1725.55,258.66" fill="#000000"/>
<polygon points="1739.96,242.44 1739.96,247.24 1744.76,247.24 1747.2,244.48 1747.2,239.68 1742.4,239.68" fill="#000000"/>
</g>
<g id="axes" shape-rendering="crispEdges" fill="#000">
<rect x="401" y="65" width="1629" height="10"/>
<rect x="401" y="1353" width="1629" height="10"/>
<rect x="421" y="65" width="11" height="1318"/>
<rect x="2020" y="65" width="10" height="1318"/>
<rect x="413" y="136" width="9" height="11"/>
<rect x="401" y="208" width="21" height="10"/>
<rect x="413" y="279" width="9" height="11"/>
<rect x="401" y="351" width="21" height="10"/>
<rect x="413" y="422" width="9" height="11"/>
<rect x="401" y="494" width="21" height="10"/>
<rect x="413" y="565" width="9" height="11"/>
<rect x="401" y="637" width="21" height="10"/>
<rect x="413" y="709" width="9" height="10"/>
<rect x="401" y="780" width="21" height="10"/>
<rect x="413" y="852" width="9" height="10"/>
<rect x="401" y="923" width="21" height="10"/>
<rect x="413" y="995" width="9" height="10"/>
<rect x="401" y="1066" width="21" height="10"/>
<rect x="413" y="1138" width="9" height="10"/>
<rect x="401" y="1209" width="21" height="10"/>
<rect x="413" y="1281" width="9" height="10"/>
<rect x="688" y="1362" width="10" height="9"/>
<rect x="954" y="1362" width="10" height="21"/>
<rect x="1220" y="1362" width="10" height="9"/>
<rect x="1486" y="1362" width="11" height="21"/>
<rect x="1753" y="1362" width="10" height="9"/>
</g>
<g id="labels" filter="url(#bin)">
<text transform="translate(339.29 1381.8) scale(1 1.04)" font-size="78.6">0</text>
<text transform="translate(186.31 1238.69) scale(1 1.04)" font-size="78.6">3,000</text>
<text transform="translate(186.31 1095.58) scale(1 1.04)" font-size="78.6">6,000</text>
<text transform="translate(186.31 952.47) scale(1 1.04)" font-size="78.6">9,000</text>
<text transform="translate(142.59 809.36) scale(1 1.04)" font-size="78.6">12,000</text>
<text transform="translate(142.59 666.24) scale(1 1.04)" font-size="78.6">15,000</text>
<text transform="translate(142.59 523.13) scale(1 1.04)" font-size="78.6">18,000</text>
<text transform="translate(142.59 380.02) scale(1 1.04)" font-size="78.6">21,000</text>
<text transform="translate(142.59 236.91) scale(1 1.04)" font-size="78.6">24,000</text>
<text transform="translate(142.59 93.8) scale(1 1.04)" font-size="78.6">27,000</text>
<text transform="translate(371.77 1463) scale(1 1.04)" font-size="78.6">0.2</text>
<text transform="translate(638.17 1463) scale(1 1.04)" font-size="78.6">0.3</text>
<text transform="translate(904.57 1463) scale(1 1.04)" font-size="78.6">0.4</text>
<text transform="translate(1170.97 1463) scale(1 1.04)" font-size="78.6">0.5</text>
<text transform="translate(1437.37 1463) scale(1 1.04)" font-size="78.6">0.6</text>
<text transform="translate(1703.77 1463) scale(1 1.04)" font-size="78.6">0.7</text>
<text transform="translate(1970.17 1463) scale(1 1.04)" font-size="78.6">0.8</text>
<text><tspan x="1020.39" y="1626.9" font-size="88.44" textLength="59.72" lengthAdjust="spacingAndGlyphs" font-style="italic">V</tspan> <tspan x="1098.86" y="1626.51" font-size="83.32" textLength="25.57" lengthAdjust="spacingAndGlyphs">(</tspan><tspan x="1126.37" y="1626.9" font-size="83.72" textLength="77.08" lengthAdjust="spacingAndGlyphs">m</tspan><tspan x="1204.3" y="1600.43" font-size="76.61" textLength="39.57" lengthAdjust="spacingAndGlyphs">3</tspan><tspan x="1246.1" y="1623.98" font-size="80.68" textLength="28.54" lengthAdjust="spacingAndGlyphs">·</tspan><tspan x="1272.02" y="1626.9" font-size="83.86" textLength="51.29" lengthAdjust="spacingAndGlyphs">h</tspan><tspan x="1321.19" y="1597.15" font-size="60" textLength="46.51" lengthAdjust="spacingAndGlyphs">–</tspan><tspan x="1364.58" y="1600" font-size="77.09" textLength="43.02" lengthAdjust="spacingAndGlyphs">1</tspan><tspan x="1407.71" y="1626.51" font-size="83.32" textLength="25.09" lengthAdjust="spacingAndGlyphs">)</tspan></text>
<text transform="rotate(-90)"><tspan x="-856.42" y="109.3" font-size="87.42" textLength="52.08" lengthAdjust="spacingAndGlyphs" style="font-family:'Liberation Serif','DejaVu Serif',serif;font-style:italic;font-weight:normal;stroke:#000;stroke-width:3.4;stroke-linejoin:miter">Δ</tspan><tspan x="-805.41" y="108.9" font-size="89.02" textLength="57.57" lengthAdjust="spacingAndGlyphs" font-style="italic">P</tspan> <tspan x="-727.99" y="108.65" font-size="84.08" textLength="25.21" lengthAdjust="spacingAndGlyphs">(</tspan><tspan x="-698.74" y="108.9" font-size="89.02" textLength="55.72" lengthAdjust="spacingAndGlyphs">P</tspan><tspan x="-640.6" y="109.16" font-size="83.84" textLength="44.07" lengthAdjust="spacingAndGlyphs" font-style="italic">a</tspan><tspan x="-592.09" y="108.65" font-size="84.08" textLength="24.98" lengthAdjust="spacingAndGlyphs">)</tspan></text>
<g fill="#fff" shape-rendering="crispEdges"><rect x="146.01" y="799.35" width="14.86" height="11.51"/><rect x="171.68" y="799.35" width="13.88" height="11.51"/><rect x="146.01" y="656.23" width="14.86" height="11.51"/><rect x="171.68" y="656.23" width="13.88" height="11.51"/><rect x="146.01" y="513.12" width="14.86" height="11.51"/><rect x="171.68" y="513.12" width="13.88" height="11.51"/><rect x="189.72" y="370.01" width="14.86" height="11.51"/><rect x="215.39" y="370.01" width="13.88" height="11.51"/><rect x="1367.91" y="1590.56" width="14.65" height="10.94"/><rect x="1393.2" y="1590.56" width="13.68" height="10.94"/></g>
</g>
</svg>
</body>
</html>
